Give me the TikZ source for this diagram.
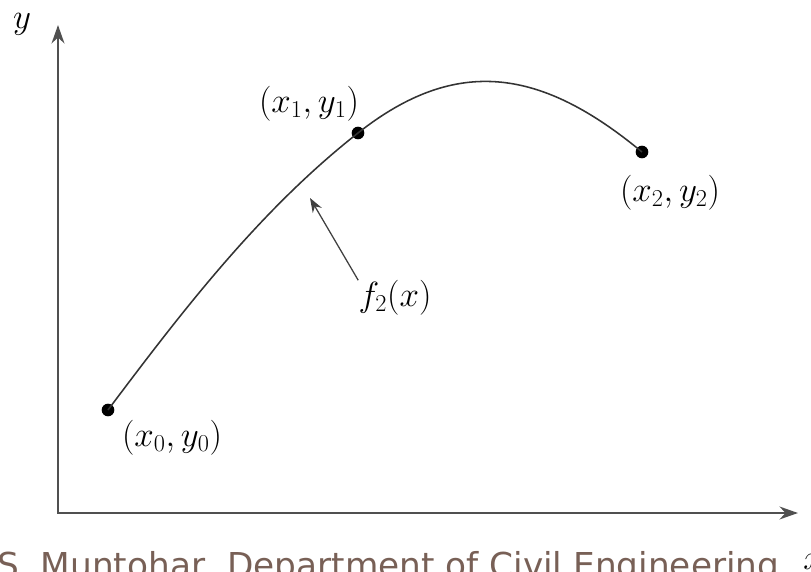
\documentclass[tikz,border=0pt]{standalone}
\usepackage{fontspec}
\usepackage{amsmath}
\usetikzlibrary{arrows.meta,positioning}
\newfontfamily\footfont{DejaVu Sans}
\definecolor{axisGray}{RGB}{80,80,80}
\definecolor{footBrown}{RGB}{120,96,86}

\begin{document}
\begin{tikzpicture}[
      x=0.025cm,y=-0.025cm,
      axis/.style={line width=2pt,axisGray,{Stealth[length=4.6mm,width=3.2mm,inset=1.5mm]}-{Stealth[length=4.6mm,width=3.2mm,inset=1.5mm]}},
      curve/.style={line width=1.1pt,black!80},
      dot/.style={circle,fill=black,inner sep=0pt,minimum size=9pt},
      lbl/.style={font=\fontsize{24}{28}\selectfont,inner sep=0pt},
      ptr/.style={-{Stealth[length=3.6mm,width=2.6mm]},line width=0.9pt,black!75}
    ]
    \useasboundingbox (0,0) rectangle (811,572);
    \clip (0,0) rectangle (811,572);
    % axes
    \coordinate (o) at (58,513);
    \coordinate (ytip) at (58,25);
    \coordinate (xtip) at (798,513);
    \draw[axis] (ytip) -- (o) -- (xtip);
    \node[lbl] (ylab) at (22,24) {$y$};
    \node[lbl] (xlab) at (813,562) {$x$};
    % data points
    \node[dot] (p0) at (108,410) {};
    \node[dot] (p1) at (358,133) {};
    \node[dot] (p2) at (642,152) {};
    \draw[curve] (p0.center) .. controls (183,310) and (260,210) .. (p1.center)
                 .. controls (458,54) and (543,70) .. (p2.center);
    \node[lbl] (l0) at (172,438) {$(x_0,y_0)$};
    \node[lbl] (l1) at (309,104) {$(x_1,y_1)$};
    \node[lbl] (l2) at (670,193) {$(x_2,y_2)$};
    % label of the curve
    \node[lbl] (f2) at (395,298) {$f_2(x)$};
    \coordinate (fpt) at (310,198);
    \draw[ptr] (f2.north west) -- (fpt);
    % footer
    \node[anchor=base west,inner sep=0pt,text=footBrown,font=\footfont\fontsize{24.4}{28}\selectfont] (foot) at (-3,577) {S. Muntohar, Department of Civil Engineering};
  \end{tikzpicture}
\end{document}
